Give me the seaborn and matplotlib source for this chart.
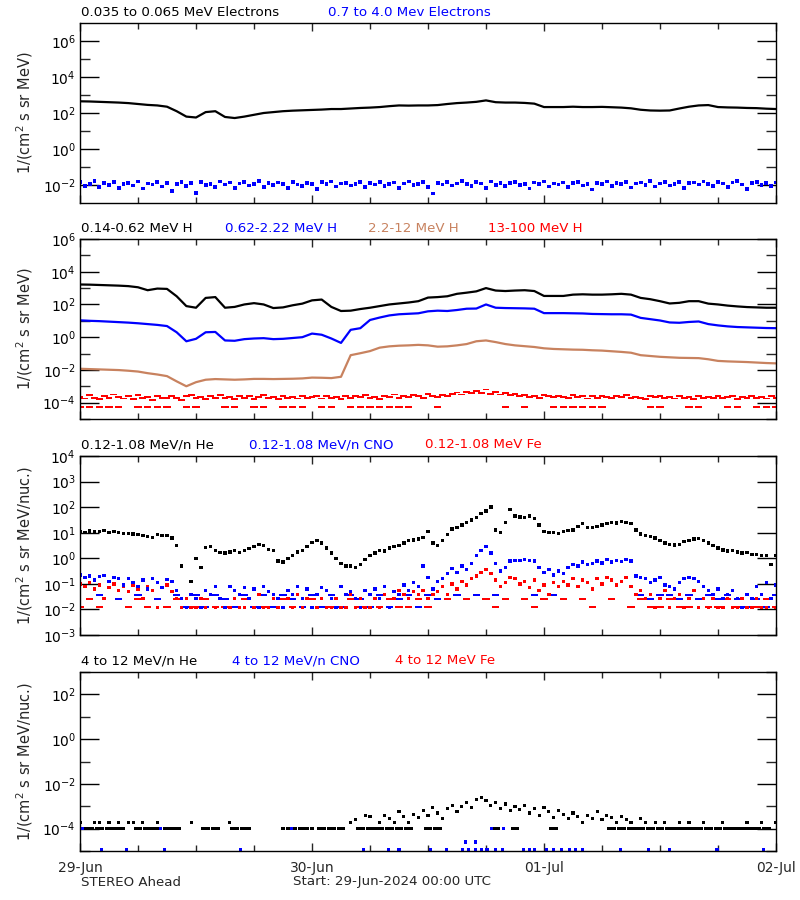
import numpy as np
import pandas as pd
import seaborn as sns
import matplotlib.pyplot as plt
import matplotlib.dates as mdates
from matplotlib.markers import MarkerStyle
from matplotlib.ticker import FixedLocator, NullFormatter

nan = np.nan

# sample times, 29-Jun-2024 00:00 UTC to 02-Jul-2024 00:00 UTC
start = pd.Timestamp('2024-06-29 00:00')
end = pd.Timestamp('2024-07-02 00:00')
times_1h = pd.date_range(start, end, freq='1h')      # 73 samples
times_30m = pd.date_range(start, end, freq='30min')  # 145 samples

# ---- all fluxes are log10(1/(cm2 s sr MeV)) ----

# panel 1: 0.035-0.065 MeV electrons (hourly)
elec_low = [2.65, 2.64, 2.62, 2.60, 2.58, 2.55, 2.50, 2.45, 2.42, 2.35,
            2.10, 1.80, 1.75, 2.05, 2.10, 1.78, 1.72, 1.80, 1.90, 2.00,
            2.05, 2.10, 2.13, 2.15, 2.17, 2.19, 2.22, 2.22, 2.25, 2.28,
            2.30, 2.33, 2.38, 2.42, 2.41, 2.42, 2.42, 2.44, 2.50, 2.55,
            2.58, 2.62, 2.70, 2.60, 2.58, 2.58, 2.56, 2.52, 2.33, 2.33,
            2.33, 2.35, 2.33, 2.33, 2.34, 2.32, 2.30, 2.26, 2.18, 2.14,
            2.13, 2.14, 2.25, 2.35, 2.42, 2.44, 2.33, 2.31, 2.30, 2.28,
            2.27, 2.24, 2.22]

# panel 1: 0.7-4.0 MeV electrons (30 min)
elec_high = [-1.85, -2.05, -1.95, -1.78, -2.10, -1.90, -2.00, -1.82, -2.15, -1.95,
             -1.88, -2.02, -1.80, -2.20, -1.92, -1.98, -1.85, -2.08, -1.90, -2.35,
             -1.95, -1.82, -2.05, -1.90, -2.45, -1.85, -2.00, -1.93, -2.12, -1.80,
             -1.98, -1.87, -2.18, -1.92, -1.84, -2.03, -1.95, -1.79, -2.10, -1.90,
             -2.00, -1.86, -1.94, -2.15, -1.83, -1.97, -2.05, -1.88, -1.93, -2.22,
             -1.85, -1.96, -1.80, -2.08, -1.92, -1.88, -2.02, -1.95, -1.83, -2.12,
             -1.90, -1.98, -1.82, -2.05, -1.93, -1.86, -2.18, -1.91, -1.80, -2.00,
             -1.94, -1.84, -2.10, -2.48, -1.88, -1.97, -1.83, -2.03, -1.92, -1.78,
             -1.96, -2.07, -1.85, -1.92, -2.15, -1.81, -1.99, -1.88, -2.04, -1.90,
             -1.84, -2.00, -1.93, -2.20, -1.87, -1.95, -1.80, -2.09, -1.91, -1.97,
             -1.86, -2.12, -1.90, -1.83, -2.02, -1.95, -2.25, -1.88, -1.93, -1.81,
             -2.05, -1.89, -1.96, -1.84, -2.14, -1.92, -1.86, -2.00, -1.79, -2.08,
             -1.91, -1.85, -2.03, -1.94, -1.82, -2.18, -1.90, -1.87, -1.98, -1.80,
             -1.95, -2.06, -1.83, -1.92, -2.10, -1.86, -1.78, -1.97, -2.22, -1.88,
             -1.84, -1.99, -1.90, -2.05, -1.86]

# panel 2: protons (hourly)
h_014_062 = [3.22, 3.21, 3.19, 3.17, 3.15, 3.12, 3.05, 2.87, 2.97, 2.95,
             2.50, 1.90, 1.80, 2.40, 2.45, 1.80, 1.85, 2.00, 2.08, 2.00,
             1.78, 1.82, 1.95, 2.05, 2.25, 2.30, 1.85, 1.60, 1.62, 1.72,
             1.80, 1.90, 2.00, 2.06, 2.12, 2.20, 2.42, 2.45, 2.50, 2.65,
             2.72, 2.80, 3.00, 2.85, 2.82, 2.85, 2.87, 2.82, 2.52, 2.52,
             2.52, 2.60, 2.62, 2.60, 2.60, 2.62, 2.65, 2.60, 2.40, 2.32,
             2.20, 2.06, 2.10, 2.20, 2.20, 2.05, 2.00, 1.93, 1.88, 1.84,
             1.82, 1.80, 1.80]
h_062_222 = [1.03, 1.00, 0.98, 0.95, 0.92, 0.89, 0.85, 0.80, 0.75, 0.68,
             0.30, -0.25, -0.10, 0.30, 0.32, -0.20, -0.22, -0.12, -0.08, -0.06,
             -0.12, -0.10, -0.05, 0.00, 0.22, 0.15, -0.08, -0.35, 0.45, 0.55,
             1.05, 1.20, 1.33, 1.40, 1.43, 1.46, 1.58, 1.62, 1.60, 1.66,
             1.74, 1.75, 2.00, 1.80, 1.78, 1.77, 1.76, 1.74, 1.47, 1.47,
             1.47, 1.46, 1.45, 1.42, 1.41, 1.40, 1.40, 1.38, 1.18, 1.10,
             1.02, 0.90, 0.88, 0.93, 0.96, 0.80, 0.72, 0.66, 0.62, 0.60,
             0.58, 0.56, 0.55]
h_22_12 = [-1.93, -1.95, -1.97, -1.99, -2.01, -2.05, -2.10, -2.20, -2.28, -2.38,
           -2.70, -3.00, -2.75, -2.60, -2.56, -2.58, -2.60, -2.58, -2.55, -2.55,
           -2.56, -2.55, -2.54, -2.52, -2.47, -2.48, -2.50, -2.42, -1.10, -0.98,
           -0.85, -0.64, -0.56, -0.52, -0.50, -0.47, -0.50, -0.58, -0.56, -0.50,
           -0.42, -0.25, -0.20, -0.30, -0.42, -0.50, -0.55, -0.60, -0.68, -0.72,
           -0.74, -0.76, -0.77, -0.80, -0.82, -0.86, -0.90, -0.95, -1.10, -1.15,
           -1.20, -1.23, -1.26, -1.27, -1.28, -1.35, -1.45, -1.48, -1.50, -1.52,
           -1.55, -1.58, -1.60]
# 13-100 MeV H: upper band (30 min) and lowest count level (hourly)
h_13_100 = [-3.65, -3.75, -3.55, -3.70, -3.80, -3.60, -3.72, -3.50, -3.68, -3.75,
            -3.62, -3.78, -3.55, -3.70, -3.66, -3.82, -3.58, -3.70, -3.74, -3.60,
            -3.70, -3.85, -3.62, -3.55, -3.72, -3.68, -3.78, -3.60, -3.70, -3.56,
            -3.74, -3.65, -3.80, -3.58, -3.70, -3.62, -3.76, -3.68, -3.55, -3.72,
            -3.66, -3.78, -3.60, -3.70, -3.64, -3.75, -3.58, -3.72, -3.68, -3.62,
            -3.75, -3.60, -3.70, -3.66, -3.80, -3.58, -3.72, -3.62, -3.68, -3.55,
            -3.70, -3.64, -3.76, -3.58, -3.68, -3.50, -3.72, -3.60, -3.66, -3.55,
            -3.62, -3.70, -3.48, -3.58, -3.66, -3.52, -3.60, -3.45, -3.38, -3.50,
            -3.35, -3.42, -3.30, -3.40, -3.20, -3.45, -3.36, -3.50, -3.42, -3.55,
            -3.48, -3.60, -3.52, -3.66, -3.58, -3.70, -3.55, -3.62, -3.68, -3.58,
            -3.65, -3.72, -3.56, -3.68, -3.62, -3.75, -3.60, -3.70, -3.58, -3.66,
            -3.72, -3.60, -3.68, -3.55, -3.74, -3.64, -3.70, -3.78, -3.62, -3.68,
            -3.58, -3.72, -3.66, -3.75, -3.60, -3.70, -3.64, -3.80, -3.62, -3.70,
            -3.66, -3.74, -3.58, -3.70, -3.68, -3.62, -3.76, -3.64, -3.72, -3.60,
            -3.70, -3.65, -3.75, -3.62, -3.70]
h_13_100_floor = [-4.25, -4.25, -4.25, -4.25, -4.25, nan, -4.25, -4.25, -4.25, -4.25,
                  nan, -4.25, -4.25, nan, nan, -4.25, -4.25, nan, -4.25, -4.25,
                  nan, -4.25, -4.25, -4.25, nan, -4.25, -4.25, nan, -4.25, -4.25,
                  -4.25, -4.25, -4.25, -4.25, -4.25, nan, nan, -4.25, nan, nan,
                  nan, nan, nan, nan, -4.25, nan, -4.25, nan, nan, -4.25,
                  -4.25, -4.25, -4.25, -4.25, -4.25, nan, nan, nan, nan, -4.25,
                  -4.25, nan, nan, -4.25, -4.25, nan, nan, -4.25, -4.25, nan,
                  -4.25, -4.25, -4.25]

# panel 3: 0.12-1.08 MeV/n heavy ions (30 min), log10(1/(cm2 s sr MeV/nuc.))
he_low = [1.05, 1.02, 1.06, 1.03, 1.05, 1.08, 1.02, 1.04, 1.00, 0.98,
          0.98, 0.95, 0.92, 0.88, 0.85, 0.82, 0.92, 0.90, 0.88, 0.80,
          0.50, -0.30, nan, -0.90, 0.00, -0.35, 0.42, 0.45, 0.30, 0.22,
          0.20, 0.25, 0.30, 0.22, 0.30, 0.38, 0.45, 0.55, 0.50, 0.35,
          0.30, -0.10, -0.15, 0.00, 0.10, 0.25, 0.30, 0.45, 0.62, 0.70,
          0.60, 0.40, 0.20, 0.00, -0.20, -0.30, -0.30, -0.35, -0.25, -0.05,
          0.10, 0.20, 0.30, 0.28, 0.40, 0.45, 0.50, 0.60, 0.70, 0.72,
          0.75, 0.82, 1.05, 0.60, 0.50, 0.70, 0.92, 1.15, 1.20, 1.30,
          1.40, 1.50, 1.60, 1.75, 1.85, 2.00, 1.10, 1.00, 1.40, 1.90,
          1.65, 1.62, 1.60, 1.65, 1.55, 1.30, 1.05, 1.00, 1.02, 0.98,
          1.05, 1.08, 1.10, 1.25, 1.35, 1.20, 1.20, 1.25, 1.30, 1.35,
          1.40, 1.38, 1.45, 1.40, 1.35, 1.10, 0.95, 0.90, 0.85, 0.80,
          0.70, 0.60, 0.55, 0.52, 0.55, 0.65, 0.70, 0.75, 0.78, 0.70,
          0.60, 0.50, 0.40, 0.32, 0.28, 0.30, 0.25, 0.20, 0.22, 0.15,
          0.15, 0.10, 0.10, -0.25, 0.10]
cno_low = [-0.65, -0.75, -0.70, -0.85, -0.72, -0.68, -0.90, -0.75, -0.80, -1.05,
           -0.78, -0.95, -1.10, -0.85, -1.20, -0.80, -0.95, -1.15, -0.82, -0.90,
           -1.25, -1.58, -1.92, -1.42, -1.58, -1.92, -1.25, -1.42, -1.10, -1.58,
           -1.92, -1.10, -1.25, -1.42, -1.15, -1.58, -1.20, -1.92, -1.10, -1.30,
           -1.42, -1.58, -1.92, -1.25, -1.42, -1.10, -1.58, -1.20, -1.92, -1.42,
           -1.15, -1.25, -1.58, -1.92, -1.10, -1.42, -1.30, -1.58, -1.92, -1.25,
           -1.42, -1.20, -1.58, -1.10, -1.92, -1.30, -1.42, -1.05, -1.25, -0.95,
           -1.10, -0.30, -0.75, -1.20, -0.90, -0.80, -0.60, -0.40, -0.55, -0.30,
           -0.45, -0.20, 0.10, 0.30, 0.45, 0.20, -0.20, -0.50, -0.35, -0.10,
           -0.08, -0.08, -0.05, -0.08, -0.10, -0.35, -0.55, -0.45, -0.65, -0.50,
           -0.60, -0.35, -0.25, -0.30, -0.15, -0.25, -0.20, -0.10, -0.18, -0.05,
           -0.15, -0.08, -0.12, -0.05, -0.10, -0.70, -0.75, -0.80, -0.95, -0.85,
           -0.75, -1.05, -1.10, -1.20, -0.95, -0.80, -0.75, -0.80, -0.90, -1.10,
           -1.25, -1.42, -1.20, -1.58, -1.42, -1.25, -1.58, -1.92, -1.42, -1.58,
           -1.10, -1.42, -0.95, -1.58, -1.05]
fe_low = [-1.00, -1.10, -0.95, -1.20, -1.05, -1.58, -1.15, -1.00, -1.25, -1.10,
          -1.30, -1.05, -1.20, -1.58, -1.10, -1.25, -1.92, -1.15, -1.05, -1.30,
          -1.58, -1.92, -1.58, -1.92, -1.92, -1.58, -1.92, -1.42, -1.92, -1.58,
          -1.92, -1.92, -1.58, -1.92, -1.92, -1.58, -1.92, -1.42, -1.92, -1.92,
          -1.58, -1.92, -1.92, -1.58, -1.92, -1.42, -1.92, -1.58, -1.92, -1.92,
          -1.58, -1.92, -1.92, -1.58, -1.92, -1.92, -1.42, -1.92, -1.58, -1.92,
          -1.92, -1.58, -1.92, -1.42, -1.92, -1.58, -1.25, -1.42, -1.58, -1.30,
          -1.42, -1.25, -1.58, -1.42, -1.30, -1.10, -1.42, -1.00, -1.20, -0.90,
          -1.05, -0.80, -0.70, -0.55, -0.45, -0.60, -0.85, -1.10, -0.95, -0.75,
          -0.80, -1.00, -0.90, -1.15, -0.85, -1.25, -1.05, -1.42, -0.95, -1.10,
          -0.90, -1.05, -0.80, -1.10, -0.85, -0.95, -1.20, -0.80, -1.00, -0.75,
          -0.85, -1.05, -0.90, -0.75, -1.10, -1.42, -1.25, -1.58, -1.42, -1.92,
          -1.58, -1.25, -1.92, -1.58, -1.42, -1.92, -1.58, -1.25, -1.92, -1.58,
          -1.92, -1.58, -1.92, -1.92, -1.58, -1.92, -1.92, -1.58, -1.92, -1.92,
          -1.58, -1.92, -1.92, -1.58, -1.92]
# extra low count levels (hourly)
cno_low_floor = [nan, nan, -1.42, nan, -1.58, nan, -1.42, nan, -1.58, nan,
                 -1.42, -1.92, -1.42, -1.92, -1.42, -1.58, -1.92, -1.42, -1.92, -1.42,
                 -1.92, -1.42, -1.58, -1.92, -1.42, -1.92, -1.42, -1.92, -1.42, -1.58,
                 -1.92, -1.42, -1.92, -1.58, -1.42, -1.92, -1.42, -1.58, nan, -1.42,
                 nan, -1.42, nan, -1.42, nan, nan, nan, -1.42, nan, -1.42,
                 nan, nan, nan, nan, nan, nan, nan, nan, -1.42, -1.58,
                 -1.42, -1.42, -1.58, -1.42, -1.58, -1.42, -1.58, -1.42, -1.58, -1.92,
                 -1.58, -1.92, -1.42]
fe_low_floor = [-1.92, -1.58, -1.92, nan, -1.58, -1.92, -1.58, -1.92, -1.58, -1.92,
                -1.58, -1.92, -1.92, -1.58, -1.92, -1.92, -1.92, -1.58, -1.92, -1.92,
                -1.92, -1.58, -1.92, -1.92, -1.58, -1.92, -1.92, -1.92, -1.58, -1.92,
                -1.92, -1.92, -1.58, -1.92, -1.92, -1.58, -1.92, -1.58, -1.58, nan,
                -1.58, nan, -1.58, -1.92, -1.58, nan, -1.58, -1.92, -1.58, nan,
                -1.58, nan, -1.58, -1.92, nan, -1.58, nan, -1.92, -1.58, -1.92,
                -1.92, -1.58, -1.92, -1.92, -1.58, -1.92, -1.92, -1.58, -1.92, -1.92,
                -1.92, -1.58, -1.92]

# panel 4: 4-12 MeV/n heavy ions
he_high = [-3.72, -4.00, -4.00, -3.72, -3.72, nan, -3.72, -4.00, -3.72, -4.00,
           -3.72, -3.72, -4.00, -3.72, -4.00, -4.00, -3.72, nan, -4.00, -4.00,
           -4.00, nan, nan, -3.72, nan, nan, -4.00, nan, -4.00, nan,
           nan, -3.72, -4.00, nan, -4.00, -4.00, nan, nan, nan, nan,
           nan, nan, -4.00, -4.00, -4.00, nan, nan, -4.00, -4.00, nan,
           -4.00, nan, nan, nan, -4.00, nan, -3.72, -3.60, -4.00, -3.40,
           -3.45, -4.00, -3.72, -3.40, -3.55, -3.72, -3.25, -3.45, -3.72, -3.35,
           -3.50, -3.20, -3.40, -3.05, -3.30, -3.55, -3.10, -2.95, -3.25, -3.00,
           -2.85, -3.05, -2.70, -2.60, -2.75, -2.95, -2.85, -3.10, -2.90, -3.20,
           -3.00, -3.15, -2.95, -3.30, -3.10, -3.40, -3.05, -3.25, -3.50, -3.20,
           -3.35, -3.55, -3.30, -3.45, -3.72, -3.40, -3.55, -3.25, -3.60, -3.40,
           -3.50, -3.72, -3.45, -3.60, -3.72, -4.00, -3.55, -3.72, -4.00, -3.72,
           -4.00, -3.72, nan, -4.00, -3.72, -4.00, -3.72, -4.00, -4.00, -3.72,
           -4.00, nan, -4.00, -3.72, -4.00, -4.00, nan, -4.00, -3.72, -4.00,
           -4.00, -3.72, -4.00, nan, -3.72]
he_high_floor = [-4.0, -4.0, -4.0, -4.0, -4.0, nan, -4.0, -4.0, -4.0, -4.0,
                 -4.0, nan, nan, -4.0, -4.0, nan, -4.0, -4.0, nan, nan,
                 nan, nan, -4.0, -4.0, nan, -4.0, -4.0, -4.0, nan, -4.0,
                 -4.0, -4.0, -4.0, -4.0, -4.0, nan, -4.0, -4.0, nan, nan,
                 nan, nan, nan, -4.0, nan, -4.0, nan, nan, nan, -4.0,
                 nan, nan, nan, nan, nan, -4.0, -4.0, -4.0, -4.0, -4.0,
                 -4.0, -4.0, -4.0, -4.0, -4.0, -4.0, -4.0, -4.0, -4.0, -4.0,
                 -4.0, -4.0, nan]
# sparse CNO counts: hours after start and log10 flux
cno_high_hours = [0.3, 2.2, 4.8, 8.3, 8.7, 16.6, 21.9, 29.3, 31.9, 33.0,
                  36.3, 37.9, 39.6, 39.9, 40.2, 40.9, 40.9, 41.5, 42.1, 42.6,
                  43.0, 43.7, 43.8, 45.9, 46.5, 47.0, 48.3, 49.0, 49.8, 50.6,
                  51.3, 52.0, 55.9, 58.8, 61.0, 65.9, 70.7]
cno_high = [-4.0, -4.93, -4.93, -4.0, -4.93, -4.93, -4.0, -4.93, -4.93, -4.93,
            -4.93, -4.93, -4.93, -4.6, -4.93, -4.6, -4.93, -4.93, -4.93, -4.0,
            -4.93, -4.93, -4.0, -4.93, -4.93, -4.93, -4.93, -4.93, -4.93, -4.93,
            -4.93, -4.93, -4.93, -4.93, -4.93, -4.93, -4.93]

BLACK = '#000000'
BLUE = '#0000ff'
BROWN = '#c8825f'
RED = '#ff0000'

sns.set_style('white')
plt.rcParams['font.family'] = ['DejaVu Sans']
plt.rcParams['mathtext.fontset'] = 'dejavusans'

fig = plt.figure(figsize=(8, 9), dpi=100)
W, H = 800.0, 900.0


def panel(top_px, bottom_px):
    return fig.add_axes([80 / W, 1 - bottom_px / H, 696 / W, (bottom_px - top_px) / H])


def frame(times, logs):
    return pd.DataFrame({'time': times, 'flux': np.power(10.0, np.asarray(logs, dtype=float))})


def trace(ax, times, logs, color):
    sns.lineplot(data=frame(times, logs), x='time', y='flux', ax=ax, color=color,
                 lw=1.6, estimator=None, legend=False)


# short horizontal dash, like the count-level marks of the original plot
dash = MarkerStyle([(-2.5, -0.7), (2.5, -0.7), (2.5, 0.7), (-2.5, 0.7), (-2.5, -0.7)])


def dots(ax, times, logs, color, s=6, marker='s'):
    df = frame(times, logs).dropna()
    sns.scatterplot(data=df, x='time', y='flux', ax=ax, color=color, marker=marker,
                    s=s, linewidth=0, edgecolor='none', legend=False)


def title(xpx, ypx, text, color):
    fig.text(xpx / W, 1 - ypx / H, text, color=color, fontsize=9.6, ha='left', va='center')


def style_axes(ax, lo, hi, labeled, minor, ylabel, bottom=False):
    ax.set_yscale('log')
    ax.set_ylim(10.0 ** lo, 10.0 ** hi)
    ax.set_xlim(start, end)
    ax.yaxis.set_major_locator(FixedLocator([10.0 ** e for e in labeled]))
    ax.set_yticklabels([r'$10^{%d}$' % e for e in labeled])
    ax.yaxis.set_minor_locator(FixedLocator([10.0 ** e for e in minor]))
    ax.yaxis.set_minor_formatter(NullFormatter())
    ax.xaxis.set_major_locator(mdates.DayLocator())
    ax.xaxis.set_minor_locator(mdates.HourLocator(byhour=[6, 12, 18]))
    ax.xaxis.set_major_formatter(mdates.DateFormatter('%d-%b'))
    ax.tick_params(axis='y', which='major', direction='in', length=14, width=1,
                   left=True, right=True, labelsize=10, pad=3, colors='black')
    ax.tick_params(axis='y', which='minor', direction='in', length=7, width=1,
                   left=True, right=True)
    ax.tick_params(axis='x', which='major', direction='in', length=6, width=1,
                   top=True, bottom=True, labelbottom=bottom, labelsize=10, pad=7)
    ax.tick_params(axis='x', which='minor', direction='in', length=4, width=1,
                   top=True, bottom=True)
    for sp in ax.spines.values():
        sp.set_color('black')
        sp.set_linewidth(1)
    ax.set_xlabel('')
    ax.set_ylabel(ylabel, fontsize=10.5)
    ax.yaxis.set_label_coords(-0.065, 0.5)


# panel 1 - electrons
ax1 = panel(23, 203)
dots(ax1, times_30m, elec_high, BLUE, s=7)
trace(ax1, times_1h, elec_low, BLACK)
style_axes(ax1, -3, 7, [-2, 0, 2, 4, 6], [-1, 1, 3, 5], '1/(cm$^2$ s sr MeV)')
title(81, 13, '0.035 to 0.065 MeV Electrons', BLACK)
title(328, 13, '0.7 to 4.0 Mev Electrons', BLUE)

# panel 2 - protons
ax2 = panel(239, 419)
dots(ax2, times_30m, h_13_100, RED, s=24, marker=dash)
dots(ax2, times_1h, h_13_100_floor, RED, s=30, marker=dash)
trace(ax2, times_1h, h_22_12, BROWN)
trace(ax2, times_1h, h_062_222, BLUE)
trace(ax2, times_1h, h_014_062, BLACK)
style_axes(ax2, -5, 6, [-4, -2, 0, 2, 4, 6], [-5, -3, -1, 1, 3, 5], '1/(cm$^2$ s sr MeV)')
title(81, 229, '0.14-0.62 MeV H', BLACK)
title(225, 229, '0.62-2.22 MeV H', BLUE)
title(368, 229, '2.2-12 MeV H', BROWN)
title(488, 229, '13-100 MeV H', RED)

# panel 3 - low energy heavy ions
ax3 = panel(456, 635)
dots(ax3, times_1h, fe_low_floor, RED, s=30, marker=dash)
dots(ax3, times_1h, cno_low_floor, BLUE, s=30, marker=dash)
dots(ax3, times_30m, fe_low, RED, s=6)
dots(ax3, times_30m, cno_low, BLUE, s=6)
dots(ax3, times_30m, he_low, BLACK, s=6)
style_axes(ax3, -3, 4, [-3, -2, -1, 0, 1, 2, 3, 4], [], '1/(cm$^2$ s sr MeV/nuc.)')
title(81, 445, '0.12-1.08 MeV/n He', BLACK)
title(249, 445, '0.12-1.08 MeV/n CNO', BLUE)
title(425, 445, '0.12-1.08 MeV Fe', RED)

# panel 4 - high energy heavy ions
ax4 = panel(672, 851)
cno_high_times = start + pd.to_timedelta(cno_high_hours, unit='h')
dots(ax4, times_1h, he_high_floor, BLACK, s=40, marker=dash)
dots(ax4, times_30m, he_high, BLACK, s=5)
dots(ax4, cno_high_times, cno_high, BLUE, s=5)
style_axes(ax4, -5, 3, [-4, -2, 0, 2], [-5, -3, -1, 1, 3], '1/(cm$^2$ s sr MeV/nuc.)',
           bottom=True)
title(81, 661, '4 to 12 MeV/n He', BLACK)
title(232, 661, '4 to 12 MeV/n CNO', BLUE)
title(395, 661, '4 to 12 MeV Fe', RED)

fig.text(81 / W, 1 - 882 / H, 'STEREO Ahead', fontsize=9.6, ha='left', va='center')
fig.text(293 / W, 1 - 882 / H, 'Start: 29-Jun-2024 00:00 UTC', fontsize=9.6,
         ha='left', va='center')

fig.savefig('out.png', dpi=100, facecolor='white')
